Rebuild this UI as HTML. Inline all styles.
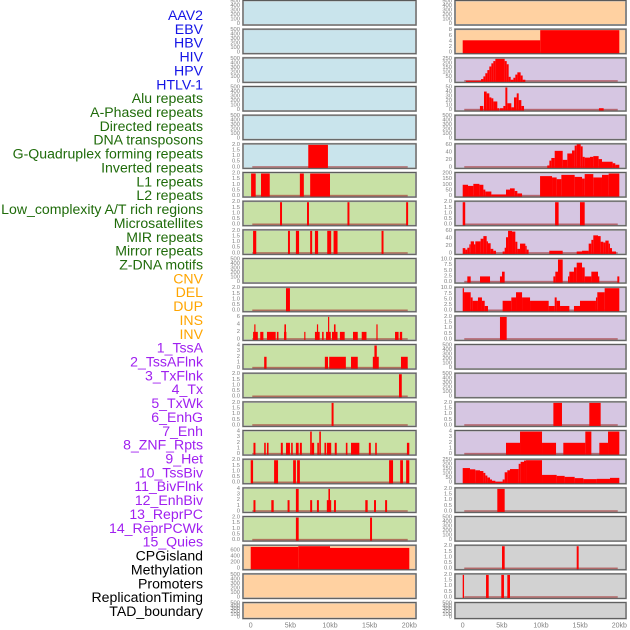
<!DOCTYPE html>
<html><head><meta charset="utf-8"><style>
html,body{margin:0;padding:0;background:#fff;}
svg{display:block;}
</style></head><body>
<svg id="chart" width="630" height="630" viewBox="0 0 630 630" xmlns="http://www.w3.org/2000/svg" font-family="Liberation Sans, sans-serif"></svg>
<script>
// ---- data: segments [startKb, endKb, value] ----
const labels = ["AAV2","EBV","HBV","HIV","HPV","HTLV-1","Alu repeats","A-Phased repeats","Directed repeats","DNA transposons","G-Quadruplex forming repeats","Inverted repeats","L1 repeats","L2 repeats","Low_complexity A/T rich regions","Microsatellites","MIR repeats","Mirror repeats","Z-DNA motifs","CNV","DEL","DUP","INS","INV","1_TssA","2_TssAFlnk","3_TxFlnk","4_Tx","5_TxWk","6_EnhG","7_Enh","8_ZNF_Rpts","9_Het","10_TssBiv","11_BivFlnk","12_EnhBiv","13_ReprPC","14_ReprPCWk","15_Quies","CPGisland","Methylation","Promoters","ReplicationTiming","TAD_boundary"];
const labelGroups = ["virus","virus","virus","virus","virus","virus","repeat","repeat","repeat","repeat","repeat","repeat","repeat","repeat","repeat","repeat","repeat","repeat","repeat","sv","sv","sv","sv","sv","chrom","chrom","chrom","chrom","chrom","chrom","chrom","chrom","chrom","chrom","chrom","chrom","chrom","chrom","chrom","other","other","other","other","other"];
const xTickKb = [0,5,10,15,20];
const xTickLabels = ["0","5kb","10kb","15kb","20kb"];

const aav2 = [], ebv = [], hbv = [], hiv = [], hpv = [];
const htlv1 = [[7.26,9.74,2]];
const alu = [[0.05,0.63,2],[1.3,2.4,2],[6.2,6.7,2],[7.5,10.0,2]];
const aphased = [[3.7,3.95,2],[7.1,7.35,2],[12.2,12.45,2],[19.6,19.85,2]];
const directed = [[0.3,0.7,2],[4.7,4.95,2],[5.7,6.1,2],[7.5,7.75,2],[8.1,8.5,2],[9.65,10.15,2],[10.45,10.95,2],[16.5,16.75,2]];
const dnaTransposons = [];
const gquad = [[4.45,4.95,2]];
const inverted = [[0.3,0.9,2],[0.45,0.6,4],[1.2,1.6,2],[2.05,3.15,2],[3.3,3.5,2],[4.2,4.5,2],[4.25,4.45,4],[6.75,6.9,2],[8.1,8.7,2],[8.35,8.5,4],[9.0,9.2,2],[9.5,10.1,2],[9.75,9.9,6],[10.25,10.95,2],[10.5,10.7,4],[11.25,11.85,2],[12.9,13.5,2],[14.0,14.6,2],[15.85,16.0,4],[18.2,18.65,2],[18.8,19.1,2]];
const l1 = [[1.7,2.0,2],[9.35,9.75,2],[9.9,12.0,2],[12.65,13.5,2],[15.4,16.15,2],[15.6,15.9,4],[18.95,19.8,2]];
const l2 = [[18.7,19.05,2]];
const lowComplexity = [[10.2,10.45,2]];
const micro = [[0.35,0.6,2],[1.7,1.9,2],[2.05,2.25,2],[3.8,4.05,2],[4.45,4.95,2],[5.1,5.3,2],[5.7,6.05,2],[6.2,6.45,2],[7.5,7.7,4],[7.7,8.0,2],[8.4,8.6,2],[8.65,8.85,4],[9.3,9.5,2],[9.6,10.15,2],[10.6,10.85,2],[12.0,12.2,2],[12.65,13.7,2],[14.9,15.15,2],[15.7,15.9,2],[19.7,20,2]];
const mir = [[0,0.3,2],[2.95,3.45,2],[5.35,5.7,2],[5.85,6.2,2],[17.45,17.95,2],[18.85,19.2,2],[19.6,20,2]];
const mirror = [[0.35,0.6,2],[2.6,2.9,2],[4.65,4.9,2],[5.7,6.05,4],[7.5,7.75,2],[8.35,8.6,2],[9.6,10.15,2],[9.8,10.0,4],[10.5,10.75,2],[14.45,14.75,2],[15.55,15.8,2],[16.95,17.2,2]];
const zdna = [[5.7,6.05,2],[15.05,15.3,2]];
const cnv = [[0,6,712],[6,10,734],[10,20,680]];
const del = [], dup = [], ins = [];
const inv = [[0,9.9,4.4],[9.9,20,8]];
const tssa = [[0.42,2.34,7],[2.34,2.64,25],[2.64,2.89,55],[2.89,3.15,90],[3.15,3.40,125],[3.40,3.66,165],[3.66,3.91,200],[3.91,4.17,225],[4.17,5.36,250],[5.36,5.62,225],[5.62,5.87,190],[5.87,6.13,50],[6.13,6.47,18],[6.47,6.72,40],[6.72,6.98,75],[6.98,7.40,100],[7.40,7.66,65],[7.66,8.0,18]];
const tssaflnk = [[2.2,2.63,9],[2.72,3.06,41],[3.06,3.40,37],[3.40,3.66,28],[3.66,3.91,26],[3.91,4.42,19],[4.42,4.68,4],[4.76,5.19,4],[5.19,5.45,9],[5.45,5.70,50],[5.70,6.21,15],[6.21,6.55,6],[6.55,6.90,28],[6.90,7.15,37],[7.15,7.49,22],[7.49,7.83,9],[17.4,18.0,4]];
const txflnk = [];
const tx = [[10.8,11.07,5],[11.07,11.32,18],[11.32,11.75,25],[11.75,12.77,44],[12.77,13.36,20],[13.36,13.96,37],[13.96,14.30,45],[14.30,14.56,58],[14.56,15.07,63],[15.07,15.32,56],[15.32,15.58,28],[15.58,16.26,26],[16.26,16.68,28],[16.68,17.36,30],[17.36,17.79,22],[17.79,19.15,15],[19.15,19.49,11],[19.49,20,7]];
const txwk = [[0,0.68,100],[0.68,1.36,90],[1.36,2.13,108],[2.13,2.64,100],[2.64,2.89,57],[2.89,3.66,40],[3.66,5.53,14],[5.53,6.04,57],[6.04,6.64,68],[6.64,6.98,45],[6.98,7.58,23],[9.88,11.41,177],[11.41,12.0,165],[12.0,12.6,150],[12.6,14.3,188],[14.3,15.24,170],[15.24,15.58,155],[15.58,16.68,195],[16.68,17.79,165],[17.79,18.64,188],[18.64,20,200]];
const enhg = [[0,0.32,2],[11.8,12.25,2],[14.98,15.58,2]];
const enh = [[0,0.34,14],[0.34,0.59,10],[0.59,0.85,15],[0.85,1.02,24],[1.02,1.44,32],[1.44,1.61,24],[1.61,2.29,32],[2.29,2.64,39],[2.64,3.06,46],[3.06,3.23,32],[3.23,3.57,27],[3.57,3.91,12],[3.91,4.25,7],[5.10,5.36,5],[5.36,5.53,15],[5.53,5.79,43],[5.79,6.30,60],[6.30,6.72,58],[6.72,6.98,31],[6.98,7.32,12],[7.32,8.0,26],[8.0,8.17,20],[8.17,8.42,10],[11.06,12.77,7],[14.56,15.24,5],[15.24,16.09,7],[16.09,16.43,26],[16.43,16.68,36],[16.68,17.28,48],[17.28,17.62,46],[17.62,17.96,31],[17.96,18.22,29],[18.22,18.64,34],[18.64,18.81,26],[18.81,19.07,14],[19.07,19.58,5]];
const znf = [[0.59,1.02,2.5],[2.21,3.49,2.5],[4.76,5.02,2.5],[5.02,5.36,4.6],[11.58,11.83,2.5],[11.83,12.17,4.6],[12.17,12.77,10],[13.45,13.62,2.5],[13.62,14.21,4.6],[14.21,14.56,6.5],[14.56,15.24,8.6],[15.24,15.58,6.5],[15.58,16.43,2.5],[16.43,17.28,4.6],[17.28,17.45,2.5],[19.75,20,2.5]];
const het = [[0,0.17,10],[0.17,1.02,8.2],[1.02,1.27,5.9],[1.27,1.95,4.4],[1.95,2.46,5.9],[2.46,2.81,4.4],[2.81,3.23,2.1],[5.10,6.21,4.4],[6.21,6.81,5.9],[6.81,7.58,8.2],[7.58,8.6,5.9],[8.6,10.98,4.4],[10.98,11.75,2.1],[11.75,12.0,5.9],[12.0,12.43,4.4],[12.43,13.62,2.1],[14.21,14.98,2.1],[14.98,17.02,4.4],[17.02,17.19,5.9],[17.19,18.13,8.2],[18.13,20,10]];
const tssbiv = [[4.76,5.62,2]];
const bivflnk = [], enhbiv = [];
const reprpc = [[11.58,12.68,2],[16.17,17.62,2]];
const reprpcwk = [[5.53,7.32,2],[7.32,10.13,4],[10.13,11.92,2],[12.85,15.66,2],[15.66,16.43,4],[17.45,18.56,2],[18.56,20,4]];
const quies = [[0,0.93,163],[0.93,1.61,149],[1.61,2.21,138],[2.21,2.64,130],[2.64,2.89,109],[2.89,3.15,80],[3.15,3.49,58],[3.49,3.74,36],[3.74,4.17,22],[4.17,5.10,11],[5.10,5.36,36],[5.36,5.70,116],[5.70,6.04,138],[6.04,7.15,152],[7.15,7.40,210],[7.40,7.83,232],[7.83,8.09,246],[8.09,10.13,250],[10.13,12.0,87],[12.0,13.02,76],[13.02,14.3,65],[14.3,15.41,51],[15.41,17.11,40],[17.11,18.81,43],[18.81,20,54]];
const cpg = [[4.42,5.36,2]];
const methylation = [];
const promoters = [[5.02,5.36,2],[14.56,14.81,2]];
const reptiming = [[0,0.17,2],[2.98,3.32,2],[4.93,5.27,2],[5.70,6.04,2]];
const tad = [];

const trackData = [aav2,ebv,hbv,hiv,hpv,htlv1,alu,aphased,directed,dnaTransposons,gquad,inverted,l1,l2,lowComplexity,micro,mir,mirror,zdna,cnv,del,dup,ins,inv,tssa,tssaflnk,txflnk,tx,txwk,enhg,enh,znf,het,tssbiv,bivflnk,enhbiv,reprpc,reprpcwk,quies,cpg,methylation,promoters,reptiming,tad];
const trackMax = [500,500,500,500,500,2,2,2,2,500,2,6,4,2,2,4,2,4,2,735,500,500,500,8,250,50,500,60,200,2,60,10,10,2,500,500,2,4,250,2,500,2,2,500];

const ticks500 = ["0","100","200","300","400","500"];
const ticks2 = ["0.0","0.5","1.0","1.5","2.0"];
const ticks4 = ["0","1","2","3","4"];
const ticks6 = ["0","2","4","6"];
const ticks8 = ["0","2","4","6","8"];
const ticks10 = ["0.0","2.5","5.0","7.5","10.0"];
const ticks50 = ["0","10","20","30","40","50"];
const ticks60 = ["0","20","40","60"];
const ticks200 = ["0","50","100","150","200"];
const ticks250 = ["0","50","100","150","200","250"];
const ticksCnv = ["0","200","400","600"];
const tickSets = {500:ticks500,2:ticks2,4:ticks4,6:ticks6,8:ticks8,10:ticks10,50:ticks50,60:ticks60,200:ticks200,250:ticks250,735:ticksCnv};

// ---- rendering ----
const NS = "http://www.w3.org/2000/svg";
const svg = document.getElementById("chart");
function mk(tag, attrs, parent){
  const e = document.createElementNS(NS, tag);
  for (const k in attrs) e.setAttribute(k, attrs[k]);
  (parent||svg).appendChild(e);
  return e;
}
const groupColor = {virus:"#1414e6",repeat:"#1f6b0a",sv:"#ffa500",chrom:"#a020f0",other:"#000000"};
const groupBg = {virus:"#c9e4ec",repeat:"#c8e1a5",sv:"#ffd1a1",chrom:"#d6c6e2",other:"#d2d2d2"};

labels.forEach((t,i)=>{
  const el = mk("text",{x:203,y:(15+i*13.86).toFixed(2),"text-anchor":"end","dominant-baseline":"central","font-size":"14.1",fill:groupColor[labelGroups[i]]});
  el.textContent = t;
  
  
});

const cols = [{px:243,pw:173,x0:250.7,k:7.93},{px:455,pw:171,x0:462.7,k:7.83}];
const ROW = 28.67;
function xScale(c,kb){ return c.x0 + kb*c.k; }

trackData.forEach((segs,i)=>{
  const c = cols[i<22?0:1];
  const r = i%22;
  const top = r*ROW + 0.5;
  const h = r===21 ? 16 : 24.5;
  const ymax = trackMax[i];
  const yS = v => top+h-1 - (v/ymax)*(h-2);
  const g = mk("g",{});
  
  
  const bg = mk("rect",{x:c.px,y:top,width:c.pw,height:h,fill:groupBg[labelGroups[i]],stroke:"#b8b8b8","stroke-width":"2"},g);
  
  
  if (segs.length){
    const bl = mk("rect",{x:xScale(c,0.2),y:top+h-2.2,width:xScale(c,19.8)-xScale(c,0.2),height:1.6,fill:"rgba(160,40,40,0.6)"},g);
    
    
  }
  segs.forEach(s=>{
    const x1 = xScale(c,s[0]), x2 = xScale(c,s[1]);
    const b = mk("rect",{x:x1.toFixed(2),y:yS(s[2]).toFixed(2),width:Math.max(1.2,x2-x1).toFixed(2),height:(yS(0)-yS(s[2])+1).toFixed(2),fill:"#ff0000"},g);
    
    
  });
  const fr = mk("rect",{x:c.px,y:top,width:c.pw,height:h,fill:"none",stroke:"#5a5a5a","stroke-width":"1"},g);
  
  
  const tk = tickSets[ymax];
  const step = ymax===735 ? 200 : ymax/(tk.length-1);
  tk.forEach((t,j)=>{
    const te = mk("text",{x:c.px-3,y:(yS(j*step)).toFixed(2),"text-anchor":"end","dominant-baseline":"central","font-size":"5.8",fill:"#808080"},g);
    te.textContent = t;
    
    
  });
});

cols.forEach(c=>{
  xTickKb.forEach((kb,j)=>{
    const te = mk("text",{x:xScale(c,kb).toFixed(2),y:626,"text-anchor":"middle","dominant-baseline":"central","font-size":"7",fill:"#808080"});
    te.textContent = xTickLabels[j];
    
    
  });
});
</script>
</body></html>
